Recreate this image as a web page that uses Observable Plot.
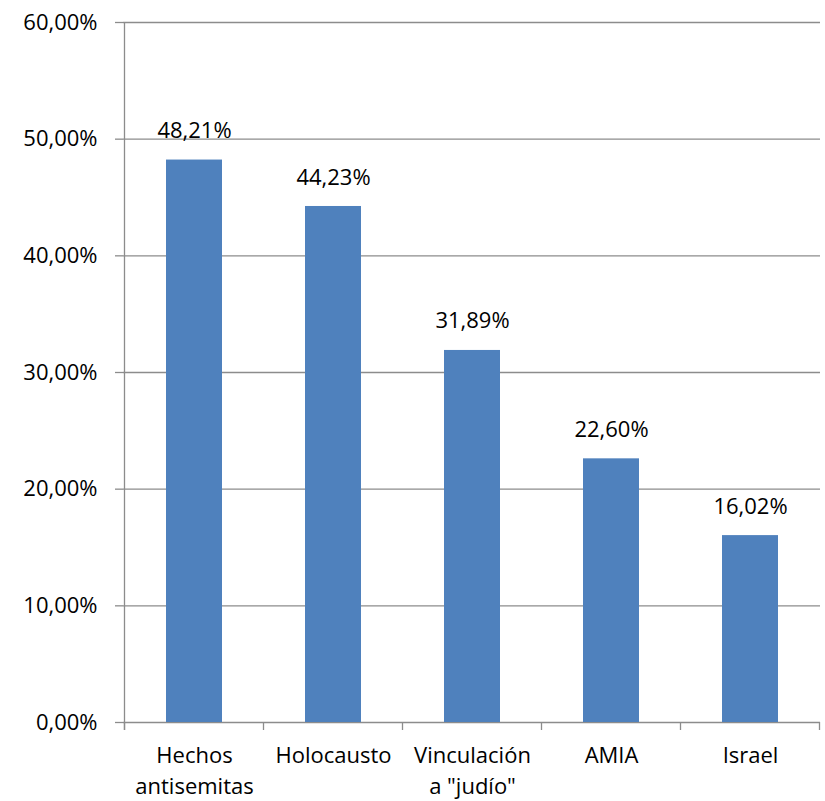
<!DOCTYPE html>
<html><head><meta charset="utf-8">
<script src="https://cdn.jsdelivr.net/npm/d3@7"></script>
<script src="https://cdn.jsdelivr.net/npm/@observablehq/plot@0.6"></script>
<style>body{margin:0;background:#fff}</style>
</head><body><div id="chart"></div>
<script>
const categories = ["Hechos antisemitas", "Holocausto", "Vinculación a \"judío\"", "AMIA", "Israel"];
const tickLabels = ["Hechos\nantisemitas", "Holocausto", "Vinculación\na \"judío\"", "AMIA", "Israel"];
const values = [48.21, 44.23, 31.89, 22.60, 16.02];
const yTicks = [0, 10, 20, 30, 40, 50, 60];

const data = categories.map((c, i) => ({cat: c, value: values[i], label: tickLabels[i]}));
const fmt = v => v.toFixed(2).replace(".", ",") + "%";
const font = "'Open Sans', sans-serif";
const grid = "#8c8c8c";
const fs = 22;

const plot = Plot.plot({
  width: 825, height: 801,
  marginLeft: 123, marginRight: 5, marginTop: 22, marginBottom: 79,
  style: {fontFamily: font, fontSize: fs + "px", color: "#000", background: "#fff", overflow: "visible"},
  x: {domain: categories, paddingInner: 0.6, paddingOuter: 0.3, axis: null},
  y: {domain: [0, 60], axis: null},
  marks: [
    Plot.ruleY(yTicks, {stroke: grid, strokeWidth: 1.3, strokeOpacity: 1}),
    Plot.barY(data, {x: "cat", y: "value", fill: "#4F81BD"}),
    Plot.text(data, {x: "cat", y: "value", text: d => fmt(d.value), dy: -29, fontSize: fs, fill: "#000"}),
    Plot.axisY(yTicks, {label: null, tickSize: 8, tickPadding: 18, stroke: grid, strokeWidth: 1.3, tickFormat: d => fmt(d), fontSize: fs, fill: "#000"}),
    Plot.axisX({label: null, tickSize: 0, tickPadding: 18, tickFormat: d => tickLabels[categories.indexOf(d)], fontSize: fs, lineHeight: 1.42, fill: "#000"}),
    Plot.ruleX([0], {stroke: grid, strokeWidth: 1.3, strokeOpacity: 1})
  ]
});
document.getElementById("chart").appendChild(plot);

// vertical axis line and category boundary ticks via the plot's scales
const xs = plot.scale("x"), ys = plot.scale("y");
const svg = d3.select(plot);
const step = xs.step;
const x0 = xs.apply(categories[0]) - (step - xs.bandwidth) / 2;
const yBottom = ys.apply(0), yTop = ys.apply(60);
svg.append("line").attr("x1", x0).attr("x2", x0).attr("y1", yTop).attr("y2", yBottom + 8)
  .attr("stroke", grid).attr("stroke-width", 1.3);
svg.selectAll("line.ctick").data(d3.range(categories.length + 1)).join("line")
  .attr("class", "ctick")
  .attr("x1", i => x0 + i * step).attr("x2", i => x0 + i * step)
  .attr("y1", yBottom).attr("y2", yBottom + 8)
  .attr("stroke", grid).attr("stroke-width", 1.3);
</script></body></html>
